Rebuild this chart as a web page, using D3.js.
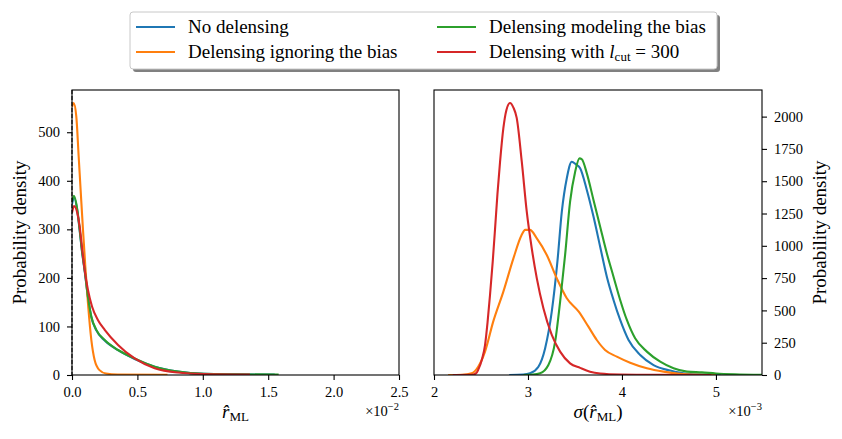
<!DOCTYPE html>
<html lang="en">
<head>
<meta charset="UTF-8">
<title>Delensing bias densities</title>
<script src="https://d3js.org/d3.v7.min.js"></script>
<style>
  body { margin: 0; background: #fff; }
</style>
</head>
<body>
<svg id="main" width="842" height="439"></svg>
<script>
// ---- data ----
// left panel: r_ML in units of 1e-2, density
const leftBlue = [[0,352],[0.015,366],[0.041,337],[0.059,297],[0.076,255],[0.097,214],[0.122,160],[0.148,119],[0.186,92],[0.25,71],[0.352,51],[0.479,33],[0.632,17],[0.81,7],[1.01,2.5],[1.25,1.5],[1.55,0.8]];
const leftOrange = [[0,552],[0.013,560],[0.033,532],[0.051,450],[0.066,381],[0.084,299],[0.102,223],[0.122,148],[0.148,72],[0.173,31],[0.21,10],[0.26,3],[0.35,1],[0.73,0.2]];
const leftGreen = [[0,357],[0.015,369],[0.041,340],[0.059,299],[0.076,257],[0.097,216],[0.122,161],[0.148,120],[0.186,93],[0.25,72],[0.352,51.5],[0.479,34],[0.632,17],[0.81,7],[1.01,2.5],[1.25,1.5],[1.58,0.8]];
const leftRed = [[0,334],[0.015,348],[0.041,333],[0.059,305],[0.076,264],[0.097,216],[0.122,175],[0.153,141],[0.199,113],[0.25,93],[0.352,62],[0.479,34],[0.632,14],[0.81,5],[1.01,2],[1.36,1]];

// right panel: sigma(r_ML) in units of 1e-3, density
const rightBlue = [[2.8,0],[2.95,3],[3.022,13],[3.111,64],[3.182,206],[3.253,490],[3.313,877],[3.36,1264],[3.413,1523],[3.466,1651],[3.51,1630],[3.555,1600],[3.626,1432],[3.697,1226],[3.768,993],[3.839,761],[3.91,581],[3.981,426],[4.07,271],[4.194,155],[4.336,77],[4.513,34],[4.69,10],[5.05,0]];
const rightOrange = [[2.15,0],[2.3,2],[2.4,13],[2.47,64],[2.543,181],[2.63,413],[2.738,645],[2.845,903],[2.93,1080],[2.97,1123],[3.02,1123],[3.094,1058],[3.2,929],[3.307,748],[3.413,594],[3.54,490],[3.643,374],[3.732,271],[3.82,194],[3.945,142],[4.087,95],[4.265,52],[4.442,26],[4.62,10],[4.8,3],[5.0,0]];
const rightGreen = [[2.95,0],[3.05,3],[3.129,13],[3.217,77],[3.289,258],[3.342,568],[3.395,929],[3.448,1342],[3.502,1574],[3.548,1677],[3.573,1670],[3.626,1561],[3.697,1355],[3.768,1148],[3.839,942],[3.91,761],[3.981,581],[4.052,426],[4.14,284],[4.265,181],[4.407,103],[4.549,52],[4.691,26],[4.85,20],[5.0,12],[5.2,6],[5.49,2]];
const rightRed = [[2.2,0],[2.38,1],[2.42,4],[2.45,15],[2.47,40],[2.51,120],[2.543,232],[2.57,410],[2.596,619],[2.625,880],[2.65,1135],[2.675,1400],[2.703,1651],[2.738,1910],[2.77,2050],[2.809,2105],[2.845,2070],[2.88,1990],[2.934,1651],[2.987,1264],[3.04,981],[3.094,748],[3.164,516],[3.253,310],[3.342,181],[3.448,90],[3.555,55],[3.66,26],[3.768,12],[3.98,4],[4.4,1],[4.95,0]];

const leftXTicks = [0, 0.5, 1.0, 1.5, 2.0, 2.5];
const leftYTicks = [0, 100, 200, 300, 400, 500];
const rightXTicks = [2, 3, 4, 5];
const rightYTicks = [0, 250, 500, 750, 1000, 1250, 1500, 1750, 2000];

const seriesNames = ['No delensing', 'Delensing ignoring the bias', 'Delensing modeling the bias', 'Delensing with l_cut = 300'];
const colors = ['#1f77b4', '#ff7f0e', '#2ca02c', '#d62728'];

// ---- layout ----
const serif = 'Liberation Serif, DejaVu Serif, serif';
let svg = d3.select('#main').attr('font-family', serif);
let plotTop = 90, plotBottom = 375;
let fontTick = 14.5, fontLabel = 19;

let xL = d3.scaleLinear().domain([0, 2.5]).range([72, 399]);
let yL = d3.scaleLinear().domain([0, 587]).range([plotBottom, plotTop]);
let xR = d3.scaleLinear().domain([2, 5.49]).range([434, 762]);
let yR = d3.scaleLinear().domain([0, 2206]).range([plotBottom, plotTop]);

function drawPanel(id, x, y, series) {
    let g = svg.append('g');
    g.append('clipPath').attr('id', id)
        .append('rect')
        .attr('x', x.range()[0]).attr('y', plotTop)
        .attr('width', x.range()[1] - x.range()[0]).attr('height', plotBottom - plotTop);

    let line = d3.line()
        .x(function(d){ return x(d[0]); })
        .y(function(d){ return y(d[1]); })
        .curve(d3.curveMonotoneX);

    let curves = g.append('g').attr('clip-path', 'url(#' + id + ')');
    series.forEach(function(s, i){
        curves.append('path')
            .attr('d', line(s))
            .attr('fill', 'none')
            .attr('stroke', colors[i])
            .attr('stroke-width', 2.1)
            .attr('stroke-linejoin', 'round');
    });
    return g;
}

function styleAxis(a) {
    a.attr('font-family', serif).attr('font-size', fontTick);
    a.select('.domain').remove();
    a.selectAll('.tick line').attr('stroke', '#000').attr('stroke-width', 1.1);
    a.selectAll('.tick text').attr('fill', '#000');
}

// left panel
let gL = drawPanel('clipL', xL, yL, [leftBlue, leftOrange, leftGreen, leftRed]);
gL.append('line')
    .attr('x1', xL(0)).attr('x2', xL(0)).attr('y1', plotTop).attr('y2', plotBottom)
    .attr('stroke', '#000').attr('stroke-width', 1.1).attr('stroke-dasharray', '4,2');
gL.append('rect')
    .attr('x', 72).attr('y', plotTop).attr('width', 327).attr('height', plotBottom - plotTop)
    .attr('fill', 'none').attr('stroke', '#000').attr('stroke-width', 1.1);

let axLX = gL.append('g').attr('transform', 'translate(0,' + plotBottom + ')')
    .call(d3.axisBottom(xL).tickValues(leftXTicks).tickFormat(d3.format('.1f')).tickSize(5).tickPadding(7));
styleAxis(axLX);
let axLY = gL.append('g').attr('transform', 'translate(72,0)')
    .call(d3.axisLeft(yL).tickValues(leftYTicks).tickFormat(d3.format('d')).tickSize(5).tickPadding(7));
styleAxis(axLY);

// right panel
let gR = drawPanel('clipR', xR, yR, [rightBlue, rightOrange, rightGreen, rightRed]);
gR.append('rect')
    .attr('x', 434).attr('y', plotTop).attr('width', 328).attr('height', plotBottom - plotTop)
    .attr('fill', 'none').attr('stroke', '#000').attr('stroke-width', 1.1);

let axRX = gR.append('g').attr('transform', 'translate(0,' + plotBottom + ')')
    .call(d3.axisBottom(xR).tickValues(rightXTicks).tickFormat(d3.format('d')).tickSize(5).tickPadding(7));
styleAxis(axRX);
let axRY = gR.append('g').attr('transform', 'translate(762,0)')
    .call(d3.axisRight(yR).tickValues(rightYTicks).tickFormat(d3.format('d')).tickSize(5).tickPadding(7));
styleAxis(axRY);

// axis labels
function rHatML(t) {
    t.append('tspan').attr('font-style', 'italic').text('r\u0302');
    t.append('tspan').attr('dy', 3).attr('font-size', 13).text('ML');
}

let lx = svg.append('text').attr('x', 235.5).attr('y', 418)
    .attr('text-anchor', 'middle').attr('font-size', fontLabel);
rHatML(lx);

let rx = svg.append('text').attr('x', 598).attr('y', 418)
    .attr('text-anchor', 'middle').attr('font-size', fontLabel);
rx.append('tspan').attr('font-style', 'italic').text('\u03c3');
rx.append('tspan').text('(');
rHatML(rx);
rx.append('tspan').attr('dy', -3).text(')');

function offsetText(xPos, exp) {
    let t = svg.append('text').attr('x', xPos).attr('y', 416)
        .attr('text-anchor', 'end').attr('font-size', fontTick);
    t.append('tspan').text('\u00d710');
    t.append('tspan').attr('dy', -6).attr('font-size', 10.5).text('\u2212' + exp);
}
offsetText(399, 2);
offsetText(762, 3);

svg.append('text').attr('transform', 'translate(26,232.5) rotate(-90)')
    .attr('text-anchor', 'middle').attr('font-size', fontLabel)
    .text('Probability density');
svg.append('text').attr('transform', 'translate(826,232.5) rotate(-90)')
    .attr('text-anchor', 'middle').attr('font-size', fontLabel)
    .text('Probability density');

// legend
let leg = svg.append('g');
leg.append('rect').attr('x', 133).attr('y', 15).attr('width', 587).attr('height', 57)
    .attr('rx', 3).attr('fill', '#808080');
leg.append('rect').attr('x', 130).attr('y', 12).attr('width', 587).attr('height', 57)
    .attr('rx', 3).attr('fill', '#fff').attr('stroke', '#c8c8c8').attr('stroke-width', 1);

let legPos = [[136, 27], [136, 52], [437, 27], [437, 52]];
seriesNames.forEach(function(name, i){
    let p = legPos[i];
    leg.append('line').attr('x1', p[0]).attr('x2', p[0] + 39).attr('y1', p[1]).attr('y2', p[1])
        .attr('stroke', colors[i]).attr('stroke-width', 2.1);
    let t = leg.append('text').attr('x', p[0] + 52).attr('y', p[1] + 6)
        .attr('font-size', 19);
    if (name.indexOf('l_cut') >= 0) {
        t.append('tspan').text('Delensing with ');
        t.append('tspan').attr('font-style', 'italic').text('l');
        t.append('tspan').attr('dy', 3).attr('font-size', 13).text('cut');
        t.append('tspan').attr('dy', -3).text(' = 300');
    } else {
        t.text(name);
    }
});
</script>
</body>
</html>
